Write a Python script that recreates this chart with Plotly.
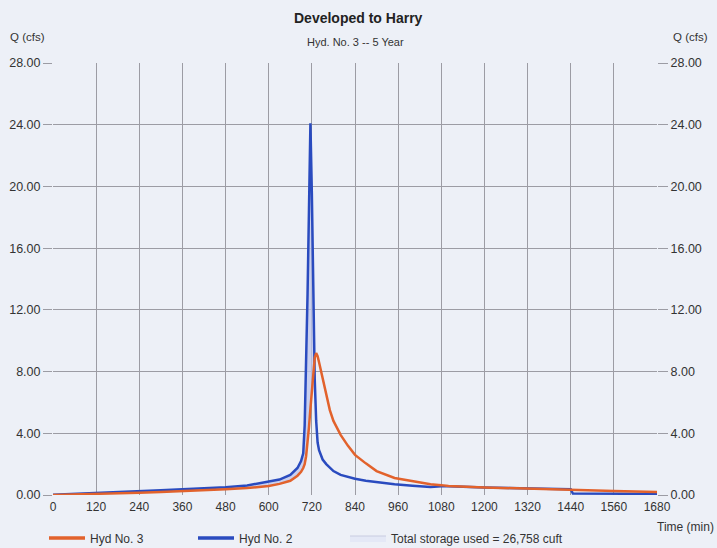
import plotly.graph_objects as go

time_min = [0, 60, 120, 180, 240, 300, 360, 420, 480, 540, 600, 630, 660, 680, 690, 696,
            700, 704, 708, 712, 716, 720, 724, 728, 732, 736, 740, 750, 760, 770, 780,
            800, 820, 840, 870, 900, 950, 1000, 1050, 1080, 1100, 1200, 1300, 1400, 1440,
            1446, 1500, 1560, 1620, 1680]

hyd2_cfs = [0.02, 0.07, 0.12, 0.18, 0.25, 0.31, 0.37, 0.43, 0.50, 0.62, 0.85, 1.0, 1.3, 1.75, 2.2, 2.7,
            4.5, 8.0, 13.0, 18.5, 24.1, 19.5, 12.5, 7.5, 4.8, 3.4, 2.9, 2.3, 2.0, 1.75, 1.55,
            1.3, 1.15, 1.05, 0.92, 0.82, 0.70, 0.60, 0.52, 0.56, 0.57, 0.48, 0.42, 0.38, 0.37,
            0.10, 0.09, 0.08, 0.08, 0.07]

hyd3_cfs = [0.0, 0.03, 0.06, 0.10, 0.15, 0.20, 0.25, 0.31, 0.37, 0.45, 0.58, 0.72, 0.92, 1.25, 1.5, 1.75,
            2.0, 2.5, 3.3, 4.4, 5.6, 6.9, 8.0, 8.9, 9.2, 9.0, 8.6, 7.5, 6.4, 5.5, 4.8,
            3.9, 3.2, 2.6, 2.05, 1.55, 1.1, 0.88, 0.70, 0.64, 0.58, 0.49, 0.43, 0.39, 0.38,
            0.37, 0.31, 0.26, 0.22, 0.19]

x_ticks = [0, 120, 240, 360, 480, 600, 720, 840, 960, 1080, 1200, 1320, 1440, 1560, 1680]
y_ticks = [0, 4, 8, 12, 16, 20, 24, 28]

title_text = "Developed to Harry"
subtitle_text = "Hyd. No. 3 -- 5 Year"
storage_label = "Total storage used = 26,758 cuft"

ORANGE = "#e2622c"
BLUE = "#2a4bbf"
FILL = "rgba(190,198,235,0.75)"
BG = "#edf0f7"
GRID = "#9c9ca4"
FONT = "Liberation Sans, Arial, sans-serif"
TXT = "#333333"

upper = [max(a, b) for a, b in zip(hyd2_cfs, hyd3_cfs)]

fig = go.Figure()
fig.add_trace(go.Scatter(x=time_min, y=hyd3_cfs, mode="lines", line=dict(width=0, color=ORANGE),
                         showlegend=False, hoverinfo="skip"))
fig.add_trace(go.Scatter(x=time_min, y=upper, mode="lines", line=dict(width=0, color="rgba(0,0,0,0)"),
                         fill="tonexty", fillcolor=FILL, showlegend=False, hoverinfo="skip"))
fig.add_trace(go.Scatter(x=time_min, y=hyd2_cfs, mode="lines", line=dict(width=2.5, color=BLUE),
                         name="Hyd No. 2", showlegend=False))
fig.add_trace(go.Scatter(x=time_min, y=hyd3_cfs, mode="lines", line=dict(width=2.5, color=ORANGE),
                         name="Hyd No. 3", showlegend=False))
# legend entries
fig.add_trace(go.Scatter(x=[None], y=[None], mode="lines", line=dict(width=3.5, color=ORANGE),
                         name="Hyd No. 3", legend="legend"))
fig.add_trace(go.Scatter(x=[None], y=[None], mode="lines", line=dict(width=3.5, color=BLUE),
                         name="Hyd No. 2", legend="legend2"))
fig.add_trace(go.Scatter(x=[None], y=[None], mode="lines", fill="toself", fillcolor="rgba(228,232,246,1)",
                         line=dict(width=1, color="#c8cce0"), name=storage_label, legend="legend3"))
fig.add_trace(go.Scatter(x=[0], y=[0], yaxis="y2", mode="markers", marker=dict(opacity=0),
                         showlegend=False, hoverinfo="skip"))

pw, ph = 717 - 53 - 60, 548 - 63 - 53
def px(x):
    return (x - 53) / pw
def py(y):
    return (495 - y) / ph

ytick_font = dict(family=FONT, size=12.5, color=TXT)
xtick_font = dict(family=FONT, size=12, color=TXT)
leg_font = dict(family=FONT, size=12, color=TXT)

def leg(xpix):
    return dict(orientation="h", x=px(xpix), xanchor="left", y=py(538), yanchor="middle",
                bgcolor="rgba(0,0,0,0)", font=leg_font, itemwidth=36,
                tracegroupgap=0)

fig.update_layout(
    width=717, height=548,
    margin=dict(l=53, r=60, t=63, b=53, autoexpand=False),
    paper_bgcolor=BG, plot_bgcolor=BG,
    font=dict(family=FONT, size=12, color=TXT),
    xaxis=dict(range=[0, 1680], tickvals=x_ticks, ticktext=[str(v) for v in x_ticks],
               showgrid=True, gridcolor=GRID, gridwidth=1, zeroline=False, automargin=False,
               showline=False, ticks="", tickfont=xtick_font, ticklabelstandoff=3),
    yaxis=dict(range=[0, 28], tickvals=y_ticks, tickformat=".2f", showgrid=True, gridcolor=GRID,
               gridwidth=1, zeroline=False, showline=False, ticks="outside", ticklen=9,
               tickcolor=GRID, tickfont=ytick_font, automargin=False),
    yaxis2=dict(range=[0, 28], tickvals=y_ticks, tickformat=".2f", overlaying="y", side="right",
                showgrid=False, zeroline=False, showline=False, ticks="outside", ticklen=10,
                tickcolor=GRID, tickfont=ytick_font, automargin=False),
    legend=leg(44),
    legend2=leg(193),
    legend3=leg(345),
    showlegend=True,
)

fig.add_annotation(text="<b>" + title_text + "</b>", x=px(358), y=py(18), xref="paper", yref="paper",
                   showarrow=False, xanchor="center", yanchor="middle",
                   font=dict(family=FONT, size=14, color="#222222"))
fig.add_annotation(text=subtitle_text, x=px(355), y=py(42), xref="paper", yref="paper",
                   showarrow=False, xanchor="center", yanchor="middle",
                   font=dict(family=FONT, size=11, color=TXT))
fig.add_annotation(text="Q (cfs)", x=px(8), y=py(37), xref="paper", yref="paper",
                   showarrow=False, xanchor="left", yanchor="middle",
                   font=dict(family=FONT, size=11.5, color=TXT))
fig.add_annotation(text="Q (cfs)", x=px(671), y=py(37), xref="paper", yref="paper",
                   showarrow=False, xanchor="left", yanchor="middle",
                   font=dict(family=FONT, size=11.5, color=TXT))
fig.add_annotation(text="Time (min)", x=px(655), y=py(527), xref="paper", yref="paper",
                   showarrow=False, xanchor="left", yanchor="middle",
                   font=dict(family=FONT, size=12, color=TXT))

fig.write_html("out.html", config={"displayModeBar": False},
               post_script="document.body.style.margin='0';document.body.style.background='" + BG + "';")
